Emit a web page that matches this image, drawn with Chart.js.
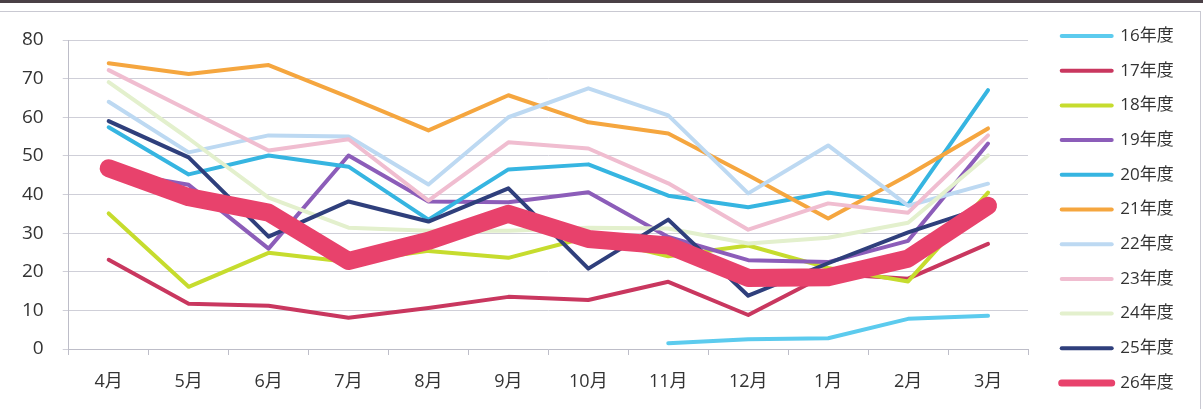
<!DOCTYPE html>
<html>
<head>
<meta charset="utf-8">
<script src="https://cdn.jsdelivr.net/npm/chart.js@4.4.1/dist/chart.umd.min.js"></script>
<style>
    html, body { margin: 0; padding: 0; background: #fff; }
    #wrap { position: relative; width: 1203px; height: 409px; }
    #topband { position: absolute; left: 0; top: 0; width: 1203px; height: 3px; background: #4a4046; }
    #frame { position: absolute; left: 0; top: 11px; width: 1200px; height: 398px; border-top: 1px solid #c9c9d2; border-right: 1px solid #c9c9d2; }
</style>
</head>
<body>
<div id="wrap">
    <div id="frame"></div>
    <canvas id="trend-chart" width="1203" height="409" style="position:absolute;left:0;top:0"></canvas>
    <div id="topband"></div>
</div>
<script>
// Months (April to March)
const months = ['4月', '5月', '6月', '7月', '8月', '9月', '10月', '11月', '12月', '1月', '2月', '3月'];

// Values per fiscal year
const fy16 = [null, null, null, null, null, null, null, 1.5, 2.5, 2.8, 7.8, 8.6];
const fy17 = [23.1, 11.7, 11.2, 8.1, 10.6, 13.5, 12.7, 17.4, 8.8, 19.5, 18.2, 27.2];
const fy18 = [35.1, 16.1, 24.9, 22.5, 25.4, 23.6, 29, 24, 26.8, 21, 17.5, 40.5];
const fy19 = [46, 42.5, 26, 50.1, 38.2, 38, 40.6, 29, 23, 22.5, 28, 53.2];
const fy20 = [57.4, 45.2, 50.1, 47.2, 33.5, 46.5, 47.8, 39.7, 36.7, 40.5, 37.4, 67];
const fy21 = [74, 71.2, 73.5, 65.2, 56.6, 65.7, 58.7, 55.8, 45, 33.8, 45, 57.1];
const fy22 = [64, 50.9, 55.3, 55, 42.6, 60, 67.5, 60.5, 40.3, 52.7, 37.1, 42.8];
const fy23 = [72.2, 61.8, 51.4, 54.3, 38.4, 53.5, 51.9, 42.9, 30.9, 37.7, 35.3, 55.3];
const fy24 = [69.1, 54.5, 39.2, 31.4, 30.6, 30.6, 31.4, 31.2, 27.3, 28.8, 32.7, 50.1];
const fy25 = [59, 49.6, 29.1, 38.2, 33, 41.6, 20.8, 33.5, 13.8, 22.2, 30.2, 37];
const fy26 = [46.8, 39.3, 35.3, 22.8, 28, 35, 28.5, 26.8, 18.4, 18.6, 23.4, 37.1];

const seriesNames = ['16年度', '17年度', '18年度', '19年度', '20年度', '21年度', '22年度', '23年度', '24年度', '25年度', '26年度'];
const seriesValues = [fy16, fy17, fy18, fy19, fy20, fy21, fy22, fy23, fy24, fy25, fy26];
const seriesColors = ['#5ccbee', '#c9375f', '#c6dc2e', '#8c5db9', '#36b5e1', '#f5a63f',
    '#bdd9f2', '#f0bdd0', '#e3f0cd', '#2f3f7c', '#e8426c'];

const fontFamily = '"Open Sans", "Noto Sans CJK JP", sans-serif';

// Build datasets; the last year is drawn thick and on top
const datasets = seriesNames.map((name, i) => ({
    label: name,
    data: seriesValues[i],
    borderColor: seriesColors[i],
    backgroundColor: seriesColors[i],
    borderWidth: i === seriesNames.length - 1 ? 18 : 4,
    borderCapStyle: 'round',
    borderJoinStyle: 'round',
    pointRadius: 0,
    pointHoverRadius: 0,
    tension: 0,
    order: seriesNames.length - i
}));

// Keep the legend in one column, fixed width, over the full height
const legendPlacer = {
    id: 'legendPlacer',
    afterInit(chart) {
        const lg = chart.legend;
        const fit = lg.fit;
        lg.fit = function () {
            this.maxHeight = chart.height;
            fit.call(this);
            this.width = 175;
            this.height = 0;
        };
    },
    afterLayout(chart) {
        const lg = chart.legend;
        lg.left += 16;
        lg.right += 16;
        lg.top = 5;
        lg.bottom = chart.height + 5;
        lg.height = chart.height;
    }
};

const ctx = document.getElementById('trend-chart').getContext('2d');
const trendChart = new Chart(ctx, {
    type: 'line',
    data: {
        labels: months,
        datasets: datasets
    },
    options: {
        responsive: false,
        animation: false,
        layout: {
            padding: { left: 3, right: 0, top: 40, bottom: 0 }
        },
        scales: {
            x: {
                offset: true,
                grid: {
                    offset: true,
                    drawOnChartArea: false,
                    drawTicks: true,
                    tickLength: 6,
                    color: '#bdbdc8'
                },
                border: { display: true, color: '#bdbdc8' },
                ticks: {
                    color: '#333',
                    padding: 18,
                    font: { family: fontFamily, size: 18, lineHeight: 1 }
                }
            },
            y: {
                min: 0,
                max: 80,
                grid: {
                    color: '#cfcfd8',
                    tickLength: 6
                },
                border: { display: true, color: '#bdbdc8' },
                ticks: {
                    stepSize: 10,
                    color: '#333',
                    padding: 19,
                    font: { family: fontFamily, size: 19 }
                }
            }
        },
        plugins: {
            tooltip: { enabled: false },
            legend: {
                position: 'right',
                labels: {
                    color: '#333',
                    padding: 17.7,
                    usePointStyle: true,
                    pointStyle: 'line',
                    pointStyleWidth: 50,
                    font: { family: fontFamily, size: 17 },
                    sort: (a, b) => a.datasetIndex - b.datasetIndex,
                    generateLabels: function (chart) {
                        const items = Chart.defaults.plugins.legend.labels.generateLabels(chart);
                        items.forEach((item) => {
                            item.pointStyle = 'line';
                            item.lineWidth = item.datasetIndex === seriesNames.length - 1 ? 7 : 4;
                            item.lineCap = 'round';
                        });
                        return items;
                    }
                }
            }
        }
    },
    plugins: [legendPlacer]
});
</script>
</body>
</html>
